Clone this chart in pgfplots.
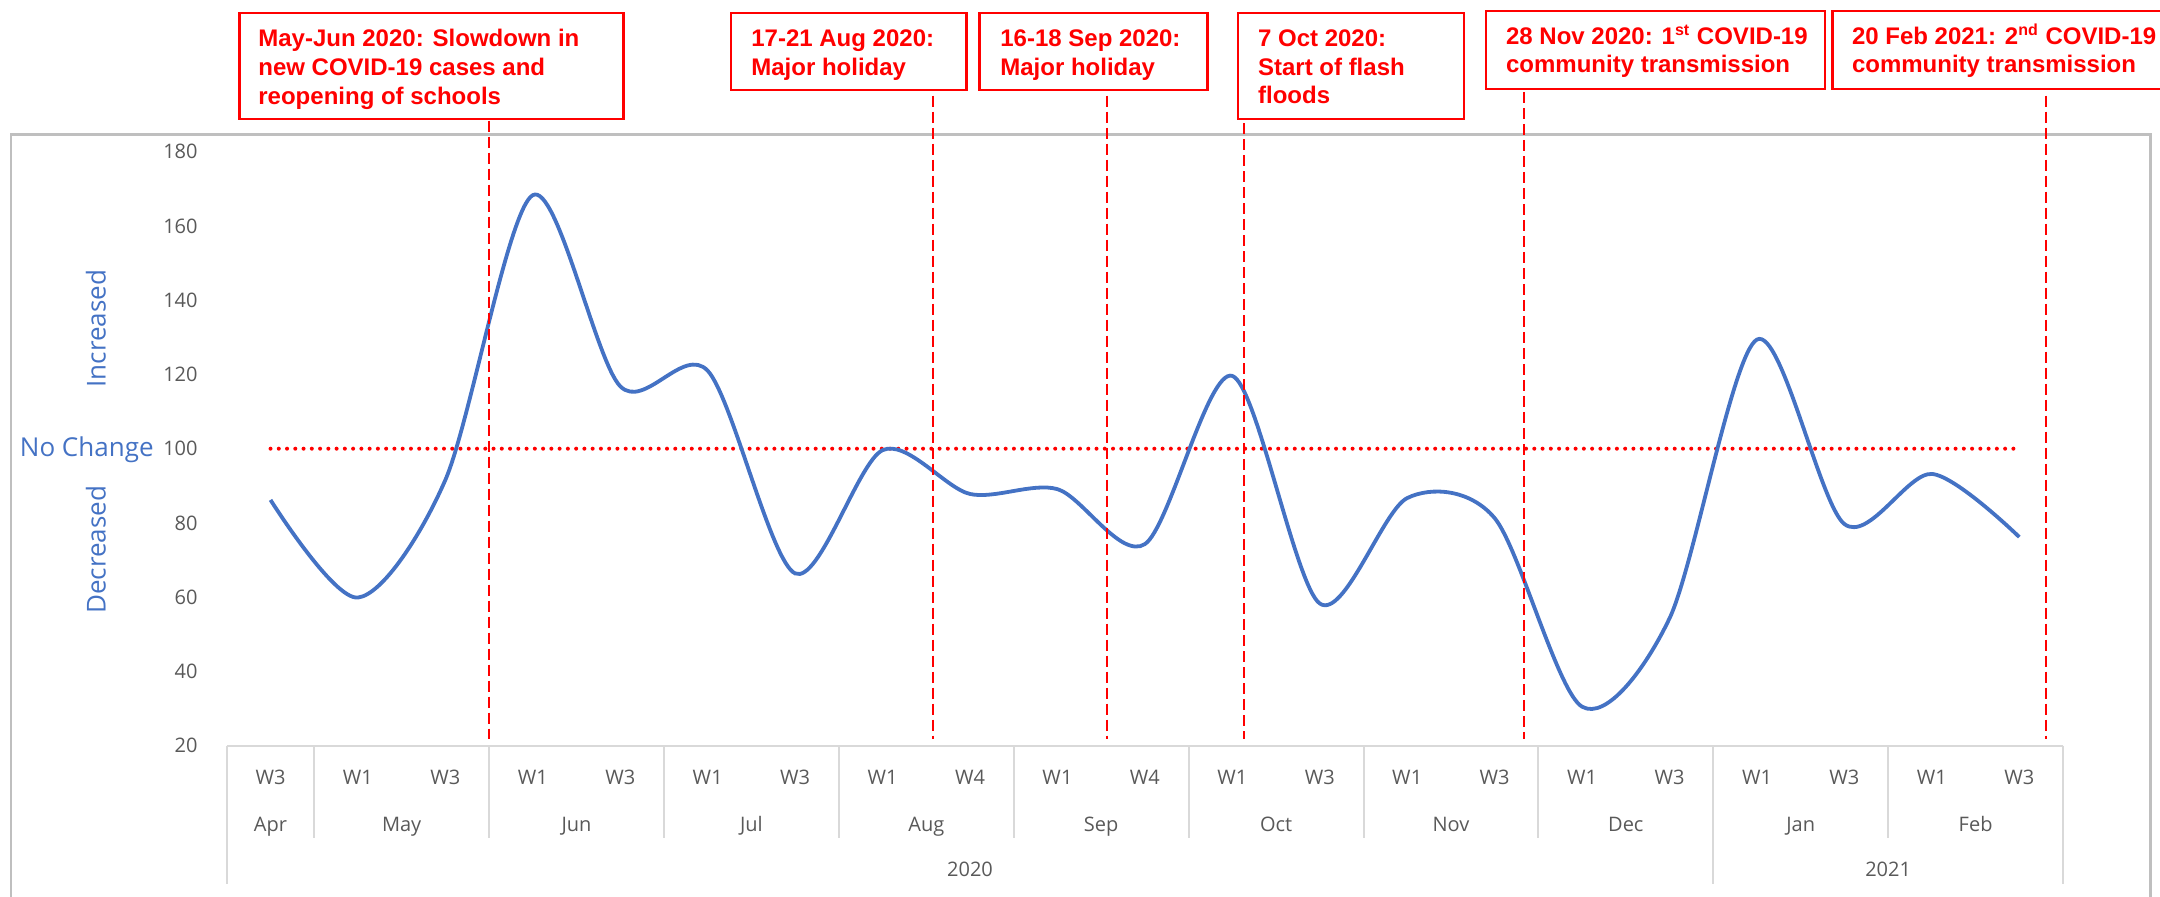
\documentclass[border=0pt]{standalone}
\usepackage{fontspec}
\setmainfont{Open Sans}
\newfontfamily\boxfont{Liberation Sans}
\usepackage{pgfplots}
\pgfplotsset{compat=1.18}
\definecolor{lineblue}{HTML}{4472C4}
\definecolor{tickgray}{HTML}{595959}
\definecolor{axgray}{HTML}{D9D9D9}
\definecolor{bordergray}{HTML}{BFBFBF}
\definecolor{annred}{HTML}{FF0000}
\tikzset{
  pxscope/.style={shift={(-113.4pt,372.85pt)},x=0.5pt,y=-0.5pt},
  boxtext/.style={anchor=base west, inner sep=0pt, text=annred,
     font=\boxfont\bfseries\fontsize{12}{14}\selectfont},
  cattext/.style={anchor=base, inner sep=0pt, text=tickgray,
     font=\fontsize{10}{12}\selectfont},
  sidetext/.style={inner sep=0pt, text=lineblue, font=\fontsize{13}{15}\selectfont},
}
\begin{document}
\begin{tikzpicture}
\useasboundingbox (-113.4pt,-75.65pt) rectangle (966.6pt,372.85pt);
\begin{scope}[pxscope]
  \draw[bordergray, line width=1.2pt] (11,910) -- (11,134.5) -- (2150.5,134.5) -- (2150.5,910);
\end{scope}
\begin{axis}[
  at={(0,0)}, anchor=south west,
  scale only axis, width=918.1pt, height=297pt,
  xmin=-0.5, xmax=20.5, ymin=20, ymax=180,
  clip=false,
  axis line style={draw=none},
  tick style={draw=none},
  major tick length=0pt,
  ytick={20,40,...,180},
  xtick={0,...,20},
  xticklabels={W3,W1,W3,W1,W3,W1,W3,W1,W4,W1,W4,W1,W3,W1,W3,W1,W3,W1,W3,W1,W3},
  tick label style={font=\fontsize{10}{12}\selectfont, text=tickgray},
  yticklabel style={anchor=east, inner sep=0pt, xshift=-14.4pt},
  xticklabel style={anchor=base, inner sep=0pt, yshift=-19.65pt},
  /pgf/number format/assume math mode=true,
]
\addplot[annred, line width=2pt, line cap=round, dash pattern=on 0pt off 4.13pt, mark=none]
  coordinates {(0,100) (20,100)};
\addplot[lineblue, line width=1.9pt, smooth, tension=0.5, mark=none] coordinates {
  (0,86.2) (1,59.9) (2,91.6) (3,168.3) (4,116.8) (5,121.0) (6,66.4) (7,99.6)
  (8,87.8) (9,89.1) (10,74.3) (11,119.6) (12,58.3) (13,86.7) (14,81.3)
  (15,30.5) (16,54.3) (17,129.4) (18,79.7) (19,93.2) (20,76.2)};
\draw[annred, line width=1pt, dash pattern=on 5.5pt off 2.5pt] (axis cs:2.502,188.35) -- (axis cs:2.502,21.9);
\draw[annred, line width=1pt, dash pattern=on 5.5pt off 2.5pt] (axis cs:7.573,195.1) -- (axis cs:7.573,21.9);
\draw[annred, line width=1pt, dash pattern=on 5.5pt off 2.5pt] (axis cs:9.566,195.1) -- (axis cs:9.566,21.9);
\draw[annred, line width=1pt, dash pattern=on 5.5pt off 2.5pt] (axis cs:11.13,187.7) -- (axis cs:11.13,21.9);
\draw[annred, line width=1pt, dash pattern=on 5.5pt off 2.5pt] (axis cs:14.33,196.1) -- (axis cs:14.33,21.9);
\draw[annred, line width=1pt, dash pattern=on 5.5pt off 2.5pt] (axis cs:20.30,195.1) -- (axis cs:20.30,21.9);
\end{axis}
\begin{scope}[pxscope]
  % category axis
  \draw[axgray, line width=1pt] (226.8,745.7) -- (2063,745.7);
  \foreach \k in {1,3,5,7,9,11,13,15,19}
    \draw[axgray, line width=1pt] ({226.8+87.44*\k},745.7) -- ({226.8+87.44*\k},838);
  \foreach \k in {0,17,21}
    \draw[axgray, line width=1pt] ({226.8+87.44*\k},745.7) -- ({226.8+87.44*\k},884);
  \foreach \m/\c in {Apr/0.5,May/2,Jun/4,Jul/6,Aug/8,Sep/10,Oct/12,Nov/14,Dec/16,Jan/18,Feb/20}
    \node[cattext] at ({226.8+87.44*\c},831.5) {\m};
  \node[cattext] at ({226.8+87.44*8.5},877) {2020};
  \node[cattext] at ({226.8+87.44*19},877) {2021};
  % side labels
  \node[sidetext, anchor=base east] at (154,456.6) {No Change};
  \node[sidetext, rotate=90, anchor=center] at (96,328.6) {Increased};
  \node[sidetext, rotate=90, anchor=center] at (96,549.8) {Decreased};
  % annotation boxes
  \draw[annred, line width=1.1pt] (239.5,12.7) rectangle (623.5,119);
  \node[boxtext] at (258,46.7) {May-Jun 2020: Slowdown in};
  \node[boxtext] at (258,75.7) {new COVID-19 cases and};
  \node[boxtext] at (258,104.3) {reopening of schools};
  \draw[annred, line width=1.1pt] (731,12.7) rectangle (966.5,90);
  \node[boxtext] at (751,46.7) {17-21 Aug 2020:};
  \node[boxtext] at (751,75.7) {Major holiday};
  \draw[annred, line width=1.1pt] (979.5,12.7) rectangle (1207.4,90);
  \node[boxtext] at (1000,46.7) {16-18 Sep 2020:};
  \node[boxtext] at (1000,75.7) {Major holiday};
  \draw[annred, line width=1.1pt] (1237.7,12.7) rectangle (1464,119);
  \node[boxtext] at (1257.7,46.7) {7 Oct 2020:};
  \node[boxtext] at (1257.7,75.3) {Start of flash};
  \node[boxtext] at (1257.7,103.7) {floods};
  \draw[annred, line width=1.1pt] (1485.7,10.7) rectangle (1825,88.7);
  \node[boxtext] at (1505.7,44.5) {28 Nov 2020: 1\textsuperscript{st} COVID-19};
  \node[boxtext] at (1505.7,73) {community transmission};
  \draw[annred, line width=1.1pt] (2175,10.7) -- (1832.5,10.7) -- (1832.5,88.7) -- (2175,88.7);
  \node[boxtext] at (1851.6,44.5) {20 Feb 2021: 2\textsuperscript{nd} COVID-19};
  \node[boxtext] at (1851.6,73) {community transmission};
\end{scope}
\end{tikzpicture}
\end{document}
